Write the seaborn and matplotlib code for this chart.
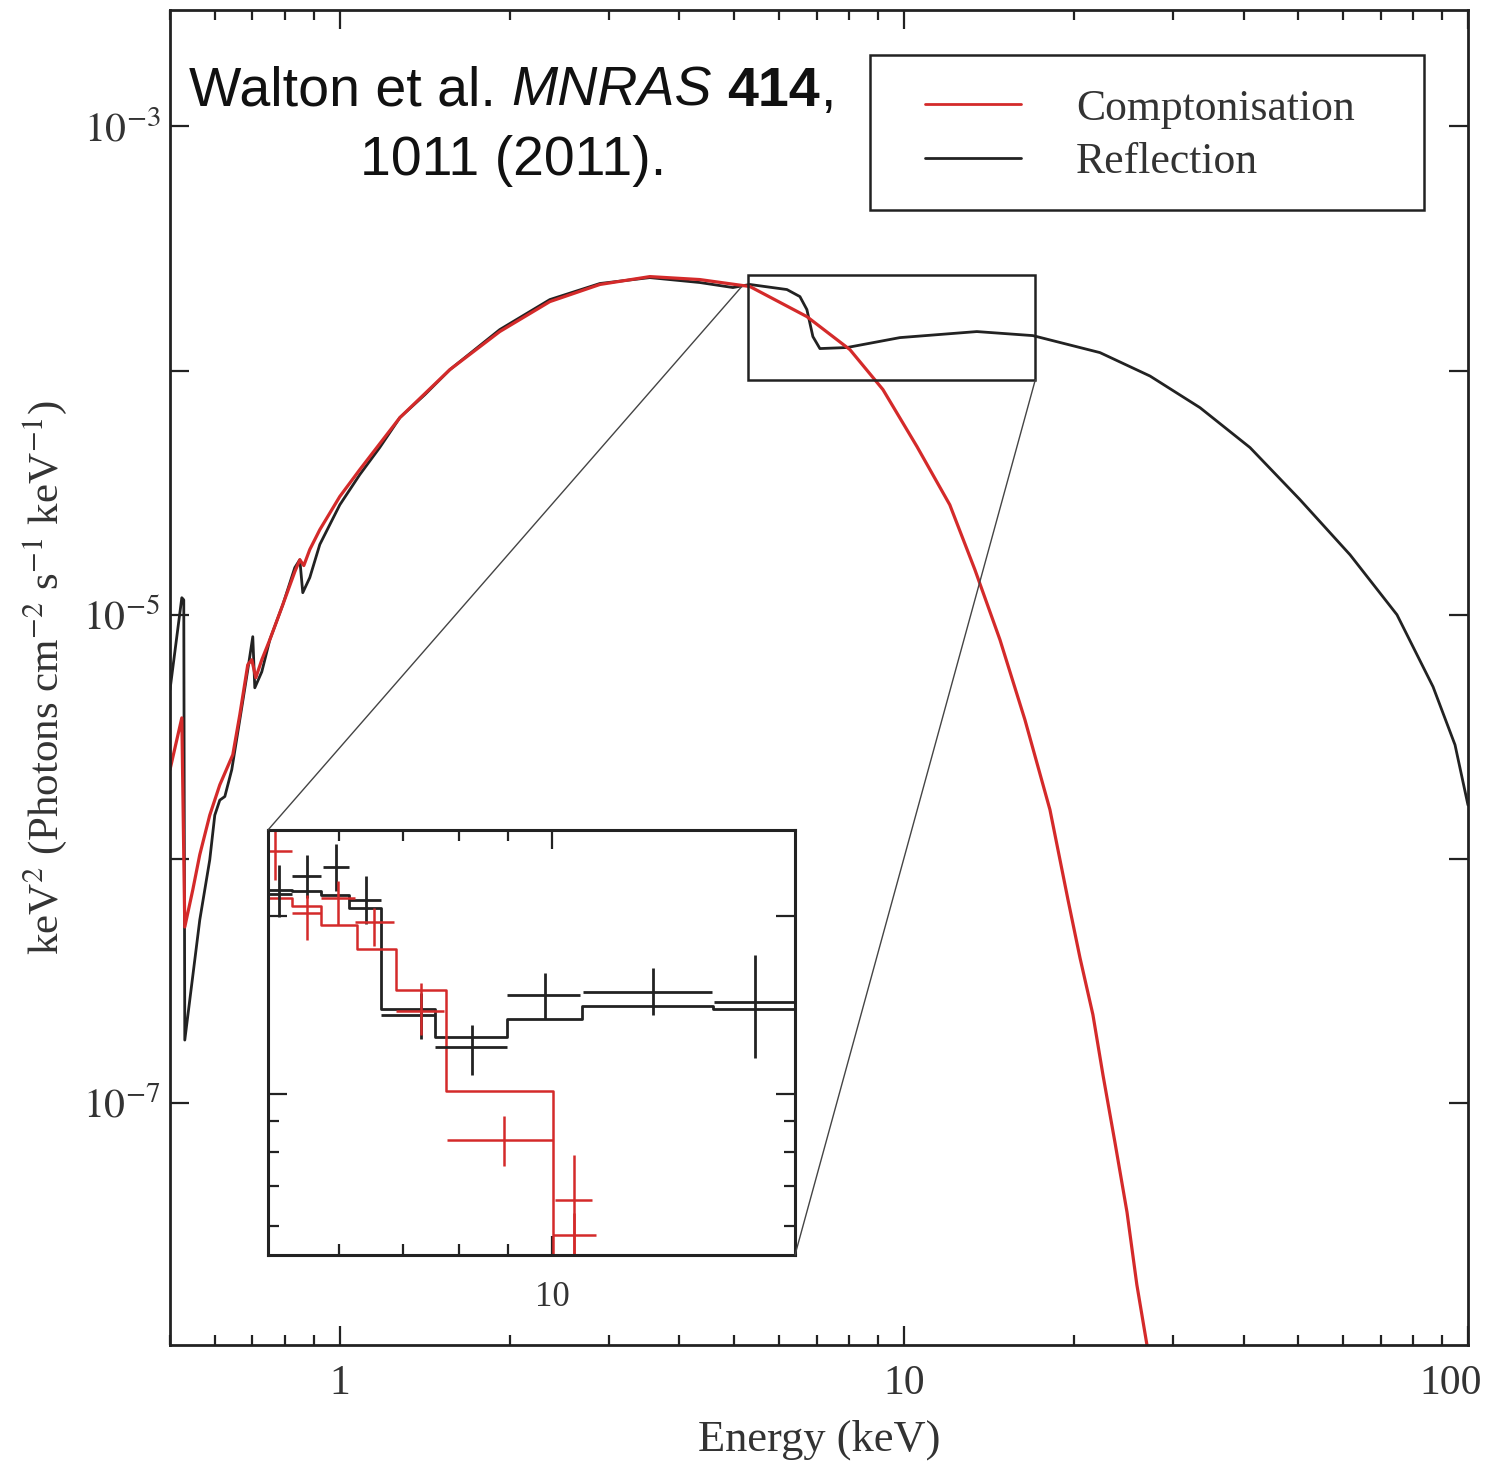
import matplotlib
matplotlib.use("Agg")
import numpy as np
import pandas as pd
import seaborn as sns
import matplotlib.pyplot as plt
from matplotlib.patches import Rectangle, ConnectionPatch
from matplotlib.lines import Line2D
from matplotlib.ticker import FixedLocator, FixedFormatter, NullLocator, NullFormatter
from matplotlib.transforms import ScaledTranslation

# ---------------- data ----------------
comp_energy = [0.50, 0.5247, 0.5311, 0.5487, 0.5646, 0.5881, 0.6127, 0.6461, 0.6648,
               0.6868, 0.6982, 0.7097, 0.7273, 0.7515, 0.7924, 0.8322, 0.8494, 0.8633,
               0.8847, 0.9216, 1.0, 1.085, 1.278, 1.567, 1.921, 2.357, 2.891, 3.545,
               4.347, 5.333, 6.730, 8.022, 9.180, 10.55, 12.06, 13.36, 14.80, 16.39,
               18.15, 19.54, 20.52, 21.63, 22.54, 23.66, 24.86, 25.88, 26.97, 27.3]
comp_flux = [2.32e-6, 3.78e-6, 5.26e-7, 7.46e-7, 1.04e-6, 1.51e-6, 2.01e-6, 2.67e-6, 3.89e-6,
             6.24e-6, 6.54e-6, 5.52e-6, 6.54e-6, 7.90e-6, 1.099e-5, 1.50e-5, 1.68e-5, 1.59e-5,
             1.85e-5, 2.23e-5, 3.05e-5, 3.93e-5, 6.42e-5, 1.009e-4, 1.445e-4, 1.917e-4, 2.253e-4,
             2.427e-4, 2.360e-4, 2.210e-4, 1.664e-4, 1.219e-4, 8.36e-5, 4.88e-5, 2.82e-5,
             1.53e-5, 7.90e-6, 3.71e-6, 1.59e-6, 6.79e-7, 3.93e-7, 2.30e-7, 1.30e-7, 6.92e-8,
             3.57e-8, 1.80e-8, 1.02e-8, 8.0e-9]

refl_energy = [0.50, 0.5247, 0.5289, 0.5311, 0.5646, 0.5881, 0.6003, 0.6127, 0.6254, 0.6434,
               0.6648, 0.6868, 0.7010, 0.7068, 0.7273, 0.7515, 0.7924, 0.8322, 0.8494, 0.8597,
               0.8847, 0.9216, 1.0, 1.085, 1.177, 1.278, 1.415, 1.567, 1.921, 2.357, 2.891,
               3.545, 4.347, 4.976, 5.333, 6.203, 6.541, 6.730, 6.897, 7.097, 7.925, 9.838,
               13.47, 16.93, 22.26, 27.31, 33.49, 41.07, 50.37, 61.79, 74.83, 86.70, 94.84, 100.0]
refl_flux = [4.93e-6, 1.174e-5, 1.15e-5, 1.81e-7, 5.62e-7, 9.91e-7, 1.51e-6, 1.74e-6, 1.80e-6, 2.32e-6,
             3.71e-6, 5.95e-6, 8.13e-6, 5.02e-6, 5.84e-6, 7.90e-6, 1.099e-5, 1.56e-5, 1.68e-5, 1.231e-5,
             1.42e-5, 1.94e-5, 2.82e-5, 3.75e-5, 4.84e-5, 6.42e-5, 7.97e-5, 1.009e-4, 1.472e-4, 1.954e-4,
             2.274e-4, 2.404e-4, 2.295e-4, 2.189e-4, 2.253e-4, 2.148e-4, 2.010e-4, 1.778e-4, 1.378e-4,
             1.231e-4, 1.243e-4, 1.365e-4, 1.445e-4, 1.391e-4, 1.185e-4, 9.5e-5, 7.05e-5, 4.84e-5,
             2.96e-5, 1.76e-5, 1.0e-5, 5.07e-6, 2.93e-6, 1.66e-6]

# inset: rebinned data points with errors and step models
refl_pts_e = [5.20, 5.56, 5.96, 6.40, 7.30, 8.25, 9.83, 12.72, 16.26]
refl_pts_elo = [5.06, 5.36, 5.77, 6.15, 6.64, 7.55, 8.97, 10.78, 14.73]
refl_pts_ehi = [5.36, 5.74, 6.15, 6.64, 7.55, 8.97, 10.69, 14.67, 17.89]
refl_pts_f = [2.18e-4, 2.33e-4, 2.42e-4, 2.13e-4, 1.36e-4, 1.20e-4, 1.47e-4, 1.49e-4, 1.43e-4]
refl_pts_flo = [1.99e-4, 2.14e-4, 2.20e-4, 1.94e-4, 1.24e-4, 1.08e-4, 1.34e-4, 1.36e-4, 1.15e-4]
refl_pts_fhi = [2.44e-4, 2.535e-4, 2.64e-4, 2.33e-4, 1.48e-4, 1.31e-4, 1.60e-4, 1.63e-4, 1.72e-4]

comp_pts_e = [5.14, 5.55, 5.99, 6.53, 7.30, 8.91, 10.55, 10.55]
comp_pts_elo = [5.06, 5.36, 5.74, 6.23, 6.87, 7.78, 10.06, 10.02]
comp_pts_ehi = [5.36, 5.74, 6.23, 6.84, 7.72, 10.02, 11.01, 11.10]
comp_pts_f = [2.57e-4, 2.02e-4, 2.14e-4, 1.95e-4, 1.38e-4, 8.37e-5, 6.64e-5, 5.79e-5]
comp_pts_flo = [2.30e-4, 1.82e-4, 1.93e-4, 1.78e-4, 1.26e-4, 7.56e-5, 5.0e-5, 5.0e-5]
comp_pts_fhi = [2.78e-4, 2.17e-4, 2.29e-4, 2.06e-4, 1.54e-4, 9.19e-5, 7.91e-5, 6.3e-5]

refl_model_edges = [5.06, 5.36, 5.74, 6.15, 6.64, 7.55, 8.97, 10.74, 14.70, 17.9]
refl_model_f = [2.21e-4, 2.20e-4, 2.17e-4, 2.06e-4, 1.39e-4, 1.25e-4, 1.34e-4, 1.41e-4, 1.39e-4]
comp_model_edges = [5.06, 5.36, 5.74, 6.26, 6.87, 7.75, 10.02, 17.9]
comp_model_f = [2.14e-4, 2.08e-4, 1.93e-4, 1.76e-4, 1.50e-4, 1.013e-4, 4.0e-5]

zoom_box_e = [5.29, 17.1]
zoom_box_f = [9.18e-5, 2.47e-4]
connector_top = (5.15, 2.2e-4)

x_ticks = [1, 10, 100]
x_tick_labels = ["1", "10", "100"]
x_minor = [0.5, 0.6, 0.7, 0.8, 0.9, 2, 3, 4, 5, 6, 7, 8, 9, 20, 30, 40, 50, 60, 70, 80, 90]
y_ticks = [1e-8, 1e-7, 1e-6, 1e-5, 1e-4, 1e-3]
y_tick_labels = ["", r"$10^{-7}$", "", r"$10^{-5}$", "", r"$10^{-3}$"]

series_names = ["Comptonisation", "Reflection"]
RED = "#d42a2a"
BLACK = "#222222"
TEXT = "#333333"

# ---------------- style ----------------
sns.set_style("ticks")
plt.rcParams["font.family"] = ["Liberation Serif", "DejaVu Serif"]
plt.rcParams["mathtext.fontset"] = "stix"
plt.rcParams["axes.linewidth"] = 2.0
plt.rcParams["axes.edgecolor"] = BLACK

W, H = 1497, 1468
fig = plt.figure(figsize=(W / 100, H / 100), dpi=100)
ax = fig.add_axes([170 / W, 1 - 1345 / H, 1298 / W, 1335 / H])

df_comp = pd.DataFrame({"Energy": comp_energy, "Flux": comp_flux})
df_refl = pd.DataFrame({"Energy": refl_energy, "Flux": refl_flux})
sns.lineplot(data=df_refl, x="Energy", y="Flux", ax=ax, color=BLACK, lw=2.0,
             estimator=None, sort=False)
sns.lineplot(data=df_comp, x="Energy", y="Flux", ax=ax, color=RED, lw=2.3,
             estimator=None, sort=False)

ax.set_xscale("log")
ax.set_yscale("log")
ax.set_xlim(0.5, 100)
ax.set_ylim(1.02e-8, 3.0e-3)

ax.xaxis.set_major_locator(FixedLocator(x_ticks))
ax.xaxis.set_major_formatter(FixedFormatter(x_tick_labels))
ax.xaxis.set_minor_locator(FixedLocator(x_minor))
ax.xaxis.set_minor_formatter(NullFormatter())
ax.yaxis.set_major_locator(FixedLocator(y_ticks))
ax.yaxis.set_major_formatter(FixedFormatter(y_tick_labels))
ax.yaxis.set_minor_locator(NullLocator())
ax.tick_params(which="both", direction="in", top=True, right=True, color=BLACK, width=1.6)
ax.tick_params(which="major", length=14, labelsize=30, labelcolor=TEXT)
ax.tick_params(which="minor", length=7.5)
ax.tick_params(axis="x", which="major", pad=14)
ax.tick_params(axis="y", which="major", pad=7)
for lbl in ax.get_xticklabels():
    if lbl.get_text() == "100":
        lbl.set_transform(lbl.get_transform() + ScaledTranslation(-0.17, 0, fig.dpi_scale_trans))

ax.set_xlabel("Energy (keV)", fontsize=32, labelpad=12, color=TEXT)
ax.set_ylabel(r"keV$^2$ (Photons cm$^{-2}$ s$^{-1}$ keV$^{-1}$)", fontsize=31,
              labelpad=10, color=TEXT)

# zoom box on the main axes
ax.add_patch(Rectangle((zoom_box_e[0], zoom_box_f[0]), zoom_box_e[1] - zoom_box_e[0],
                       zoom_box_f[1] - zoom_box_f[0], fill=False, ec=BLACK, lw=1.8, zorder=5))

# legend box
ax.add_patch(Rectangle((0.539, 0.850), 0.427, 0.116, transform=ax.transAxes, fill=False,
                       ec=BLACK, lw=1.8, zorder=6))
handles = [Line2D([], [], color=RED, lw=2.0), Line2D([], [], color=BLACK, lw=2.0)]
ax.legend(handles, series_names, loc="upper left", bbox_to_anchor=(0.5817, 0.941),
          frameon=False, fontsize=31.5, handlelength=2.2, handletextpad=1.25,
          labelspacing=0.3, borderpad=0, borderaxespad=0, labelcolor=TEXT)

# ---------------- inset ----------------
axin = fig.add_axes([268 / W, 1 - 1255 / H, 527 / W, 425 / H])
sns.lineplot(x=refl_model_edges, y=refl_model_f + [refl_model_f[-1]], ax=axin, color=BLACK,
             lw=2.0, estimator=None, sort=False, drawstyle="steps-post")
sns.lineplot(x=comp_model_edges, y=comp_model_f + [comp_model_f[-1]], ax=axin, color=RED,
             lw=1.8, estimator=None, sort=False, drawstyle="steps-post")
re = np.array(refl_pts_e); rf = np.array(refl_pts_f)
axin.errorbar(re, rf, xerr=[re - np.array(refl_pts_elo), np.array(refl_pts_ehi) - re],
              yerr=[rf - np.array(refl_pts_flo), np.array(refl_pts_fhi) - rf],
              fmt="none", ecolor=BLACK, elinewidth=2.0, capsize=0)
ce = np.array(comp_pts_e); cf = np.array(comp_pts_f)
axin.errorbar(ce, cf, xerr=[ce - np.array(comp_pts_elo), np.array(comp_pts_ehi) - ce],
              yerr=[cf - np.array(comp_pts_flo), np.array(comp_pts_fhi) - cf],
              fmt="none", ecolor=RED, elinewidth=1.8, capsize=0)
axin.set_xscale("log")
axin.set_yscale("log")
axin.set_xlim(5.06, 17.9)
axin.set_ylim(5.36e-5, 2.79e-4)
axin.xaxis.set_major_locator(FixedLocator([10]))
axin.xaxis.set_major_formatter(FixedFormatter(["10"]))
axin.xaxis.set_minor_locator(FixedLocator([6, 7, 8, 9]))
axin.xaxis.set_minor_formatter(NullFormatter())
axin.yaxis.set_major_locator(FixedLocator([1e-4, 2e-4]))
axin.yaxis.set_major_formatter(NullFormatter())
axin.yaxis.set_minor_locator(FixedLocator([6e-5, 7e-5, 8e-5, 9e-5]))
axin.yaxis.set_minor_formatter(NullFormatter())
axin.tick_params(which="both", direction="in", top=True, right=True, color=BLACK, width=1.6)
axin.tick_params(which="major", length=14, labelsize=25, pad=19, labelcolor=TEXT)
axin.tick_params(which="minor", length=8)
axin.set_xlabel(""); axin.set_ylabel("")
for s in axin.spines.values():
    s.set_linewidth(2.2)

# connector lines
for xyA, xyB in [((0, 1), connector_top), ((1, 0), (zoom_box_e[1], zoom_box_f[0]))]:
    cp = ConnectionPatch(xyA=xyA, coordsA=axin.transAxes, xyB=xyB, coordsB=ax.transData,
                         color="#444444", lw=1.0)
    fig.add_artist(cp)

# ---------------- citation text ----------------
fig.canvas.draw()
renderer = fig.canvas.get_renderer()
fam = ["Liberation Sans", "DejaVu Sans"]

def text_width(s, **kw):
    t = fig.text(0, 0, s, fontsize=40, family=fam, **kw)
    w = t.get_window_extent(renderer).width
    t.remove()
    return w

space = text_width("a a") - text_width("aa")
pieces = [("Walton et al.", {}), (None, {}), ("MNRAS", {"style": "italic"}), (None, {}),
          ("414", {"weight": "bold"}), (",", {})]
widths = [space if s is None else text_width(s, **kw) for s, kw in pieces]
x0 = 512 - sum(widths) / 2
for (s, kw), w in zip(pieces, widths):
    if s is not None:
        fig.text(x0 / W, 1 - 106 / H, s, fontsize=40, family=fam, ha="left",
                 va="baseline", color="#111111", **kw)
    x0 += w
fig.text(513 / W, 1 - 175 / H, "1011 (2011).", fontsize=40, family=fam, ha="center",
         va="baseline", color="#111111")

fig.savefig("out.png", dpi=100)
